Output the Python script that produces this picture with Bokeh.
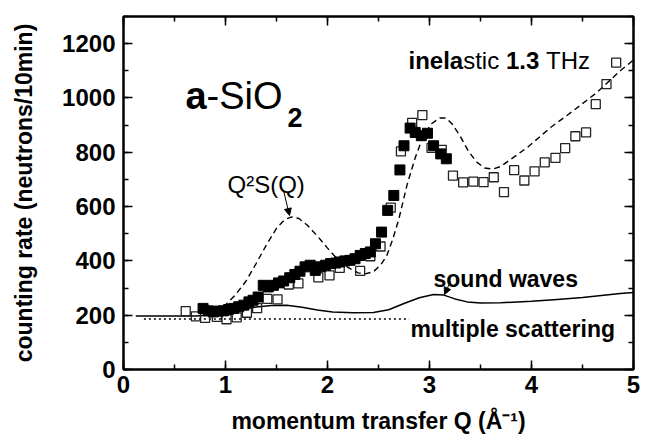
from bokeh.plotting import figure
from bokeh.models import (Label, Arrow, NormalHead, LinearAxis, SingleIntervalTicker,
                          Range1d, CustomJSTickFormatter)
from bokeh.embed import file_html
from bokeh.resources import INLINE

# ---- data ----
open_q = [0.61, 0.71, 0.80, 0.915, 1.01, 1.11, 1.21, 1.31, 1.41, 1.51, 1.62, 1.715,
          1.91, 2.02, 2.12, 2.32, 2.42, 2.52, 2.62, 2.72, 2.83, 2.93, 3.02, 3.12,
          3.23, 3.33, 3.43, 3.53, 3.63, 3.73, 3.83, 3.93, 4.03, 4.13, 4.235, 4.33,
          4.43, 4.535, 4.63, 4.735, 4.83]
open_y = [215, 196, 190, 194, 185, 192, 209, 226, 260, 258, 313, 317,
          339, 347, 374, 363, 417, 453, 596, 803, 908, 937, 816, 809,
          714, 689, 692, 690, 708, 653, 734, 696, 730, 763, 779, 815,
          859, 873, 977, 1051, 1130]

filled_q = [0.78, 0.83, 0.88, 0.93, 0.98, 1.03, 1.08, 1.13, 1.18, 1.23, 1.27, 1.32,
            1.37, 1.42, 1.47, 1.52, 1.57, 1.63, 1.68, 1.73, 1.78, 1.83, 1.88, 1.93,
            1.98, 2.03, 2.08, 2.12, 2.17, 2.22, 2.27, 2.32, 2.37, 2.42, 2.47, 2.53,
            2.59, 2.65, 2.71, 2.75, 2.81, 2.86, 2.92, 2.98, 3.04, 3.11, 3.165]
filled_y = [225, 216, 212, 215, 216, 221, 225, 231, 237, 249, 255, 267,
            310, 304, 310, 319, 326, 338, 350, 362, 378, 384, 365, 378,
            384, 390, 392, 396, 400, 402, 408, 420, 427, 433, 463, 506,
            586, 641, 735, 824, 889, 873, 861, 870, 824, 794, 776]

s2_q = [0.80, 0.90, 1.00, 1.10, 1.20, 1.30, 1.40, 1.50, 1.58, 1.65, 1.72, 1.80,
        1.90, 2.00, 2.10, 2.20, 2.30, 2.37, 2.45, 2.52, 2.58, 2.64, 2.70, 2.78,
        2.86, 2.94, 3.02, 3.10, 3.16, 3.22, 3.30, 3.38, 3.46, 3.54, 3.62, 3.70,
        3.80, 3.96, 4.19, 4.41, 4.64, 4.87, 5.00]
s2_y = [200, 212, 238, 276, 325, 390, 458, 520, 552, 562, 556, 532,
        492, 447, 405, 376, 356, 352, 360, 384, 418, 480, 555, 680,
        780, 860, 905, 926, 926, 905, 860, 805, 765, 742, 738, 748,
        775, 818, 892, 953, 1020, 1100, 1140]

sound_q = [0.12, 0.40, 0.70, 0.85, 1.00, 1.15, 1.30, 1.45, 1.60, 1.75, 1.90, 2.05,
           2.25, 2.45, 2.60, 2.75, 2.90, 3.04, 3.14, 3.25, 3.37, 3.50, 3.70, 4.00,
           4.22, 4.50, 4.87, 5.00]
sound_y = [197, 197, 197, 200, 208, 220, 230, 236, 237, 229, 219, 212,
           209, 210, 220, 243, 264, 276, 274, 260, 249, 245, 246, 251,
           257, 265, 280, 284]

ms_q = [0.20, 2.80]
ms_y = [186, 186]

x_label = "momentum transfer Q (Å⁻¹)"
y_label = "counting rate (neutrons/10min)"

# ---- layout helpers (pixel -> data) ----
L, R, T, B = 123, 633, 16, 369
W, H = 645, 438
X0, X1, Y0, Y1 = 0, 5, 0, 1300


def dx(px):
    return X0 + (px - L) * (X1 - X0) / (R - L)


def dy(py):
    return Y0 + (B - py) * (Y1 - Y0) / (B - T)


FONT = "Liberation Sans"

p = figure(width=W, height=H, x_range=Range1d(X0, X1), y_range=Range1d(Y0, Y1),
           output_backend="svg", toolbar_location=None,
           min_border_left=L, min_border_right=W - R, min_border_top=T,
           min_border_bottom=H - B)
p.grid.visible = False
p.outline_line_color = "black"
p.outline_line_width = 2
p.background_fill_color = "white"
p.border_fill_color = "white"

p.xaxis.ticker = SingleIntervalTicker(interval=1, num_minor_ticks=2)
p.yaxis.ticker = SingleIntervalTicker(interval=200, num_minor_ticks=2)


def style_axis(ax, labels=True):
    ax.axis_line_width = 2
    ax.axis_line_color = "black"
    ax.major_tick_in = 9
    ax.major_tick_out = 0
    ax.minor_tick_in = 5
    ax.minor_tick_out = 0
    ax.major_tick_line_width = 1.5
    ax.minor_tick_line_width = 1.5
    ax.major_label_text_font = FONT
    ax.major_label_text_font_style = "bold"
    ax.major_label_text_font_size = "24px"
    ax.major_label_text_color = "black"
    ax.axis_label_text_font = FONT
    ax.axis_label_text_font_style = "bold"
    ax.axis_label_text_font_size = "23px"
    ax.axis_label_text_color = "black"
    if not labels:
        ax.formatter = CustomJSTickFormatter(code="return ''")


for ax in p.xaxis:
    style_axis(ax)
    ax.major_label_standoff = 6
    ax.axis_label = x_label
    ax.axis_label_standoff = 12
for ax in p.yaxis:
    style_axis(ax)
    ax.major_label_standoff = 8
    ax.axis_label = y_label
    ax.axis_label_standoff = 22

top = LinearAxis(ticker=SingleIntervalTicker(interval=1, num_minor_ticks=2))
style_axis(top, labels=False)
p.add_layout(top, "above")
right = LinearAxis(ticker=SingleIntervalTicker(interval=200, num_minor_ticks=2))
style_axis(right, labels=False)
p.add_layout(right, "right")

# ---- curves and points ----
p.line(ms_q, ms_y, line_color="black", line_width=1.5, line_dash="2 3")
p.line(sound_q, sound_y, line_color="black", line_width=1.5)
p.line(s2_q, s2_y, line_color="black", line_width=1.4, line_dash="6 4")
p.scatter(open_q, open_y, marker="square", size=9, fill_color=None,
          line_color="#222222", line_width=1.3)
p.scatter(filled_q, filled_y, marker="square", size=10, fill_color="black",
          line_color="black", line_width=1)


def lab(px, py, text, size, bold=False):
    p.add_layout(Label(x=dx(px), y=dy(py), text=text, text_font=FONT,
                       text_font_size=f"{size}px",
                       text_font_style="bold" if bold else "normal",
                       text_color="black", text_baseline="alphabetic",
                       text_align="left"))


# a-SiO2
lab(185, 95, "a", 38, bold=True)
lab(206, 95, "-SiO", 38)
lab(287, 117, "2", 27, bold=True)

# Q2S(Q)
lab(227, 184, "Q²S(Q)", 24)
p.add_layout(Arrow(end=NormalHead(size=7, fill_color="black", line_color="black"),
                   x_start=dx(283), y_start=dy(190), x_end=dx(289), y_end=dy(215),
                   line_width=1, line_color="black"))

# inelastic 1.3 THz
lab(408, 60, "inela", 24, bold=True)
lab(462.7, 60, "stic", 24)
lab(505.4, 60, "1.3", 24, bold=True)
lab(545.5, 60, "THz", 24)

# sound waves / multiple scattering
lab(433, 278, "sound waves", 23, bold=True)
p.add_layout(Arrow(end=NormalHead(size=7, fill_color="black", line_color="black"),
                   x_start=dx(450), y_start=dy(281), x_end=dx(444), y_end=dy(294),
                   line_width=1, line_color="black"))
lab(410, 328, "multiple scattering", 23, bold=True)

open("out.html", "w").write(file_html(p, INLINE))
